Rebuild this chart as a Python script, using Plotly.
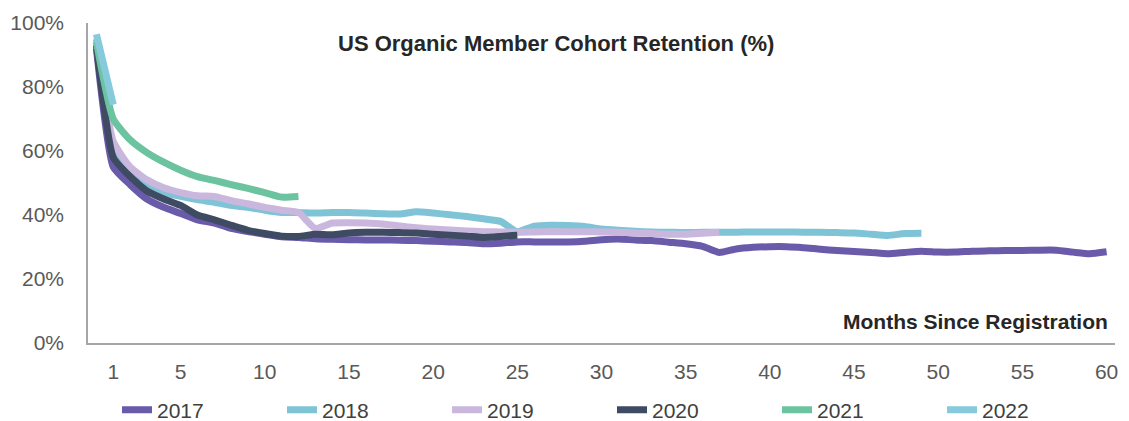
import plotly.graph_objects as go

# ---- data ----
cohorts = ["2017", "2018", "2019", "2020", "2021", "2022"]

ret_2017 = [92, 55, 49.5, 45, 42.4, 40.5, 38.5, 37.5, 35.8, 34.8,
            34, 33.2, 33, 32.6, 32.4, 32.3, 32.2, 32.2, 32.1, 32,
            31.8, 31.6, 31.4, 31, 31.2, 31.6, 31.6, 31.6, 31.6, 31.8,
            32.3, 32.5, 32.2, 32, 31.5, 31, 30.2, 28.3, 29.4, 29.9,
            30.1, 30.1, 29.8, 29.3, 28.9, 28.6, 28.3, 27.9, 28.3, 28.7,
            28.4, 28.4, 28.7, 28.8, 28.9, 28.9, 29, 29, 28.4, 27.9, 28.5]
ret_2018 = [95, 60, 53, 49, 47, 45.8, 44.8, 44, 43, 42.4,
            41.5, 40.8, 40.8, 40.6, 40.8, 40.8, 40.6, 40.4, 40.3, 41,
            40.6, 40.1, 39.5, 38.8, 38, 34.8, 36.5, 36.8, 36.7, 36.4,
            35.6, 35.2, 34.9, 34.7, 34.6, 34.5, 34.6, 34.6, 34.6, 34.7,
            34.7, 34.7, 34.6, 34.6, 34.5, 34.4, 34, 33.6, 34.2, 34.3]
ret_2019 = [94, 63, 55, 51, 48.5, 47, 46, 45.8, 44.5, 43.5,
            42.4, 41.5, 40.8, 35.8, 37.5, 37.6, 37.5, 37.2, 36.6, 36,
            35.6, 35.3, 35, 34.8, 34.7, 34.6, 34.7, 34.8, 34.8, 34.8,
            34.7, 34.6, 34.4, 34.2, 34, 34, 34.3, 34.6]
ret_2020 = [93, 58, 52, 47.5, 45, 43, 40, 38.5, 36.8, 35.2,
            34.2, 33.4, 33.3, 34, 33.8, 34.4, 34.6, 34.6, 34.5, 34.4,
            34, 33.7, 33.4, 33, 33.3, 33.7]
ret_2021 = [94, 70, 63.5, 59.5, 56.5, 54, 52, 50.8, 49.5, 48.3,
            47, 45.6, 45.8]
ret_2022 = [96.5, 74.5]

series = [ret_2017, ret_2018, ret_2019, ret_2020, ret_2021, ret_2022]
colors = ["#6A5AAA", "#7FC4D6", "#C9B7DD", "#3F4B63", "#6CC3A0", "#86CADC"]

x_ticks = [1, 5, 10, 15, 20, 25, 30, 35, 40, 45, 50, 55, 60]
y_ticks = [0, 20, 40, 60, 80, 100]
y_tick_text = [f"{v}%" for v in y_ticks]

fig = go.Figure()
for name, vals, col in zip(cohorts, series, colors):
    fig.add_trace(go.Scatter(
        x=list(range(len(vals))), y=vals, name=name, mode="lines",
        line=dict(color=col, width=7, shape="spline", smoothing=0.5),
    ))

W, H = 1129, 421
L, R, T, B = 88, 14, 23, 78

fig.update_layout(
    width=W, height=H,
    margin=dict(l=L, r=R, t=T, b=B, autoexpand=False),
    plot_bgcolor="white", paper_bgcolor="white",
    font=dict(family="Liberation Sans, Arial, sans-serif", color="#595959", size=21),
    xaxis=dict(range=[-0.5, 60.5], tickvals=x_ticks, showgrid=False, zeroline=False,
               showline=True, linecolor="#A6A6A6", linewidth=1.5, ticks="",
               ticklabelstandoff=9, tickfont=dict(size=21, color="#595959")),
    yaxis=dict(range=[0, 100], tickvals=y_ticks, ticktext=y_tick_text, showgrid=False,
               zeroline=False, showline=True, linecolor="#A6A6A6", linewidth=1.5,
               ticks="", ticklabelstandoff=18, tickfont=dict(size=21, color="#595959")),
    legend=dict(orientation="h", xref="container", yref="container",
                x=117 / W, xanchor="left", y=1 - 410 / H, yanchor="middle",
                entrywidth=120, entrywidthmode="pixels",
                font=dict(size=21, color="#404040"), bgcolor="rgba(0,0,0,0)"),
    annotations=[
        dict(text="<b>US Organic Member Cohort Retention (%)</b>", xref="paper", yref="paper",
             x=(556 - L) / (W - L - R), y=(343 - 43) / 320, xanchor="center", yanchor="middle",
             showarrow=False, font=dict(size=22, color="#262626")),
        dict(text="<b>Months Since Registration</b>", xref="paper", yref="paper",
             x=(1110 - L) / (W - L - R), y=(343 - 321) / 320, xanchor="right", yanchor="middle",
             showarrow=False, font=dict(size=21, color="#262626")),
    ],
)

fig.write_html("out.html", config={"displayModeBar": False},
               post_script="document.body.style.margin='0';")
